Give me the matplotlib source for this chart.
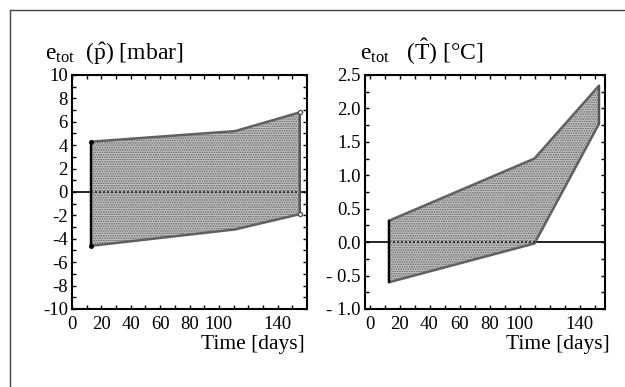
import matplotlib
matplotlib.use("Agg")
import matplotlib.pyplot as plt
from matplotlib.lines import Line2D

plt.rcParams['font.family'] = ['Liberation Serif', 'DejaVu Serif']
plt.rcParams['mathtext.fontset'] = 'custom'
plt.rcParams['mathtext.rm'] = 'Liberation Serif'
plt.rcParams['mathtext.it'] = 'Liberation Serif:italic'
plt.rcParams['hatch.linewidth'] = 0.8
plt.rcParams['hatch.color'] = '#3a3a3a'

# pressure error band
days_p = [13, 111, 155]
p_upper = [4.3, 5.2, 6.8]
p_lower = [-4.6, -3.2, -1.9]
p_yticks = [10, 8, 6, 4, 2, 0, -2, -4, -6, -8, -10]
p_ylabels = ['10', '8', '6', '4', '2', '0', '-2', '-4', '-6', '-8', '-10']

# temperature error band
days_T = [13, 110, 153]
T_upper = [0.32, 1.25, 2.34]
T_lower = [-0.6, -0.02, 1.77]
T_yticks = [2.5, 2.0, 1.5, 1.0, 0.5, 0.0, -0.5, -1.0]
T_ylabels = ['2.5', '2.0', '1.5', '1.0', '0.5', '0.0', '- 0.5', '- 1.0']

x_ticks = [0, 20, 40, 60, 80, 100, 140]
x_labels = ['0', '20', '40', '60', '80', '100', '140']

fig = plt.figure(figsize=(6.25, 3.87), dpi=100)
ax1 = fig.add_axes([0.1152, 0.2016, 0.376, 0.6047])
ax2 = fig.add_axes([0.584, 0.2016, 0.384, 0.6047])


def band(ax, days, upper, lower):
    ax.axhline(0, color='black', lw=1.2, zorder=1)
    ax.fill_between(days, lower, upper, facecolor='#c4c4c4', hatch='.......',
                    edgecolor='#606060', lw=1.8, zorder=2)
    ax.plot([days[0], days[-1]], [0, 0], color='#222222', lw=1.2, ls=(0, (1.2, 1.2)), zorder=3)
    ax.plot([days[0], days[0]], [lower[0], upper[0]], color='black', lw=1.6, zorder=4)
    ax.plot([days[-1], days[-1]], [lower[-1], upper[-1]], color='#555555', lw=1.4, zorder=4)


band(ax1, days_p, p_upper, p_lower)
ax1.plot([days_p[0], days_p[0]], [p_lower[0], p_upper[0]], 'o', color='black', ms=2.5, zorder=5)
ax1.plot([days_p[-1], days_p[-1]], [p_lower[-1], p_upper[-1]], 'o', mfc='white', mec='#555555',
         ms=3, zorder=5)
ax1.set_xlim(0, 160)
ax1.set_ylim(-10, 10)
ax1.set_yticks(p_yticks)
ax1.set_yticklabels(p_ylabels)
ax1.set_yticks(range(-10, 11), minor=True)

band(ax2, days_T, T_upper, T_lower)
ax2.set_xlim(-3, 157)
ax2.set_ylim(-1.0, 2.5)
ax2.set_yticks(T_yticks)
ax2.set_yticklabels(T_ylabels)
ax2.set_yticks([v / 4 for v in range(-4, 11)], minor=True)

for ax in (ax1, ax2):
    ax.set_xticks(x_ticks)
    ax.set_xticklabels(x_labels)
    ax.set_xticks(range(0, 160, 10), minor=True)
    ax.tick_params(which='both', direction='in', top=True, right=True,
                   length=3, width=1, labelsize=13.5)
    ax.tick_params(axis='y', pad=3)
    ax.tick_params(axis='x', pad=5)
    for s in ax.spines.values():
        s.set_linewidth(1.5)

fig.text(0.072, 0.845, r'e$_{\rm tot}$  ($\hat{\rm p}$) [mbar]', fontsize=17, va='baseline')
fig.text(0.576, 0.845, r'e$_{\rm tot}$   ($\hat{\rm T}$) [°C]', fontsize=17, va='baseline')
fig.text(0.488, 0.098, 'Time [days]', fontsize=15.5, ha='right', va='baseline')
fig.text(0.976, 0.098, 'Time [days]', fontsize=15.5, ha='right', va='baseline')

# outer frame (left and top edges)
fig.add_artist(Line2D([0.016, 0.016], [0, 0.974], transform=fig.transFigure, color='#444444', lw=1))
fig.add_artist(Line2D([0.016, 1.0], [0.974, 0.974], transform=fig.transFigure, color='#444444', lw=1))

fig.savefig('out.png', dpi=100)
